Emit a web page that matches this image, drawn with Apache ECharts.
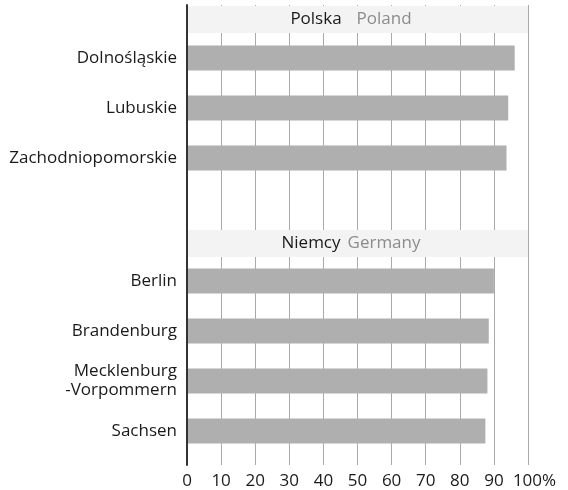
<!DOCTYPE html>
<html>
<head>
<meta charset="utf-8">
<script src="https://cdn.jsdelivr.net/npm/echarts@6/dist/echarts.min.js"></script>
<style>html,body{margin:0;padding:0;background:#fff;}#c{width:568px;height:490px;}</style>
</head>
<body>
<div id="c"></div>
<script>
const plCategories = ['Dolnośląskie', 'Lubuskie', 'Zachodniopomorskie'];
const plValues = [96.1, 94.2, 93.7];
const deCategories = ['Berlin', 'Brandenburg', 'Mecklenburg\n-Vorpommern', 'Sachsen'];
const deValues = [90.0, 88.5, 88.1, 87.5];
const xTicks = [0, 10, 20, 30, 40, 50, 60, 70, 80, 90, 100];
const plHeader = ['Polska', 'Poland'];
const deHeader = ['Niemcy', 'Germany'];

const FONT = 'Open Sans';
const FS = 17;
const L = 187, R = 40, W = 568 - L - R;
const chart = echarts.init(document.getElementById('c'));

function header(y, names, gap) {
  return [
    { type: 'rect', shape: { x: L + 1, y: y, width: W - 1, height: 27 }, style: { fill: '#f3f3f3' }, z: 5 },
    { type: 'text', x: 351, y: y + 13.5, z: 6,
      style: { text: '{a|' + names[0] + '}{b|' + names[1] + '}', align: 'center', verticalAlign: 'middle',
        rich: { a: { fontFamily: FONT, fontSize: FS, fill: '#1a1a1a', color: '#1a1a1a', padding: [0, gap, 0, 0] },
                b: { fontFamily: FONT, fontSize: FS, fill: '#8c8c8c', color: '#8c8c8c' } } } }
  ];
}

const yLabel = { fontFamily: FONT, fontSize: FS, color: '#1a1a1a', margin: 10, lineHeight: 19, align: 'right' };

chart.setOption({
  animation: false,
  grid: [
    { left: L, right: R, top: 5, bottom: 25 },
    { left: L, right: R, top: 33, height: 150 },
    { left: L, right: R, top: 256, height: 200 }
  ],
  xAxis: [
    { gridIndex: 0, type: 'value', min: 0, max: 100, interval: 10,
      axisLine: { show: false }, axisTick: { show: false },
      splitLine: { show: true, lineStyle: { color: '#aaaaaa', width: 1 } },
      axisLabel: { fontFamily: FONT, fontSize: FS, color: '#1a1a1a', margin: 8,
        formatter: v => v === 100 ? '{p|100%}' : String(v),
        rich: { p: { fontFamily: FONT, fontSize: FS, color: '#1a1a1a', padding: [0, 0, 0, 13] } } } },
    { gridIndex: 1, type: 'value', min: 0, max: 100, show: false },
    { gridIndex: 2, type: 'value', min: 0, max: 100, show: false }
  ],
  yAxis: [
    { gridIndex: 0, type: 'value', min: 0, max: 1, axisLabel: { show: false }, axisTick: { show: false },
      splitLine: { show: false }, axisLine: { show: true, lineStyle: { color: '#333333', width: 2 } }, z: 10 },
    { gridIndex: 1, type: 'category', data: plCategories, inverse: true,
      axisLine: { show: false }, axisTick: { show: false }, axisLabel: yLabel },
    { gridIndex: 2, type: 'category', data: deCategories, inverse: true,
      axisLine: { show: false }, axisTick: { show: false }, axisLabel: yLabel }
  ],
  series: [
    { type: 'bar', xAxisIndex: 1, yAxisIndex: 1, data: plValues, barWidth: 25,
      itemStyle: { color: '#afafaf' }, z: 3 },
    { type: 'bar', xAxisIndex: 2, yAxisIndex: 2, data: deValues, barWidth: 25,
      itemStyle: { color: '#afafaf' }, z: 3 }
  ],
  graphic: [].concat(header(6, plHeader, 15), header(230, deHeader, 7))
});
</script>
</body>
</html>
